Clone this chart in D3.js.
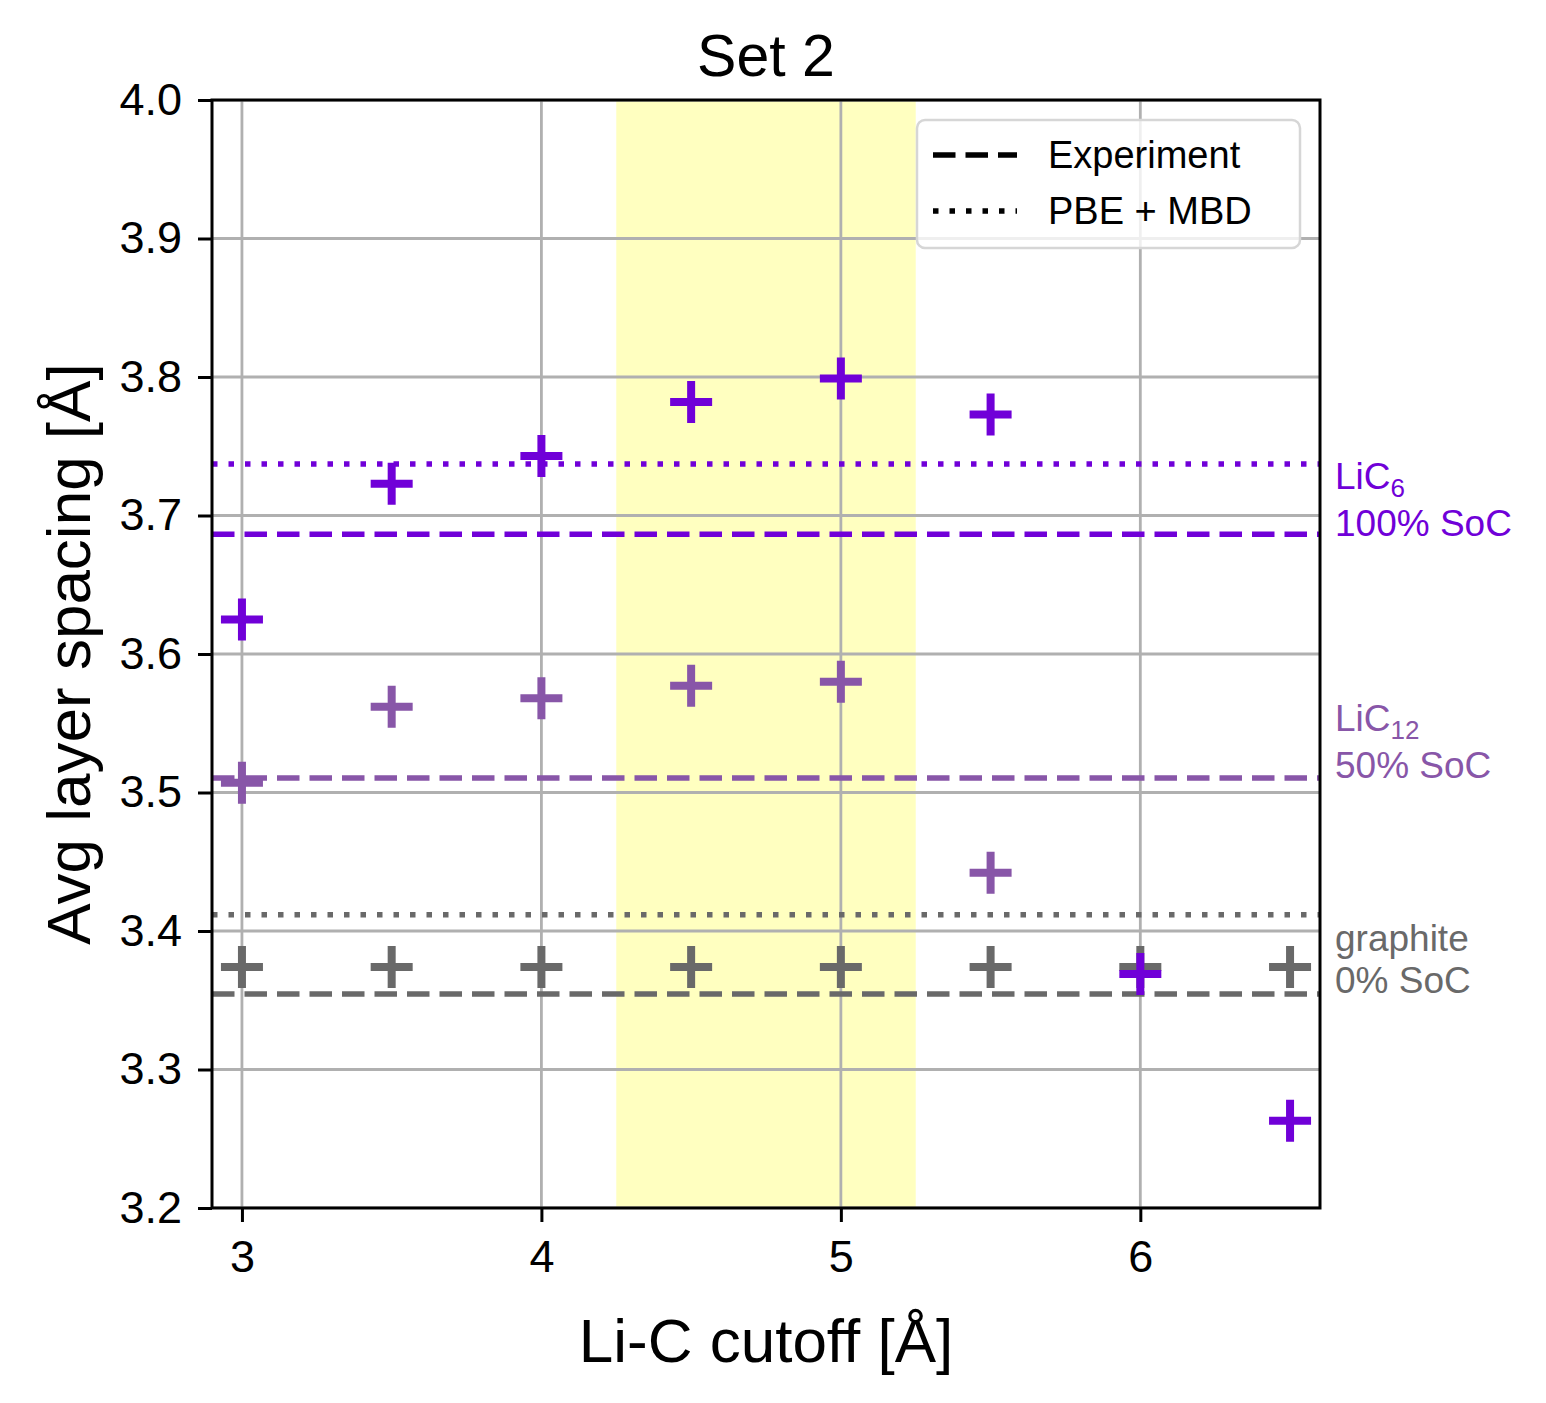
<!DOCTYPE html>
<html>
<head>
<meta charset="utf-8">
<script src="https://cdn.jsdelivr.net/npm/d3@7"></script>
<style>
body { margin:0; background:#fff; }
svg text { font-family: 'Liberation Sans', Arial, sans-serif; }
</style>
</head>
<body>
<svg id="chart" width="1546" height="1403"></svg>
<script>
// data
var cutoffs   = [3, 3.5, 4, 4.5, 5, 5.5, 6, 6.5];
var lic6      = [3.625, 3.723, 3.743, 3.782, 3.799, 3.773, 3.369, 3.263];
var lic12     = [3.507, 3.562, 3.568, 3.577, 3.580, 3.442, null, null];
var graphite  = [3.374, 3.374, 3.374, 3.374, 3.374, 3.374, 3.374, 3.374];

var expLines  = [{v:3.6865, c:'lic6'}, {v:3.5105, c:'lic12'}, {v:3.3545, c:'graphite'}];
var pbeLines  = [{v:3.7372, c:'lic6'}, {v:3.4118, c:'graphite'}];

var xTicks = [3, 4, 5, 6];
var yTicks = [3.2, 3.3, 3.4, 3.5, 3.6, 3.7, 3.8, 3.9, 4.0];
var shade  = [4.25, 5.25];

var labels = [
	{c:'lic6', v:3.716, main:'LiC', sub:'6', line2:'100% SoC'},
	{c:'lic12', v:3.541, main:'LiC', sub:'12', line2:'50% SoC'},
	{c:'graphite', v:3.382, main:'graphite', sub:'', line2:'0% SoC'}
];

var colors = {lic6:'#7000d8', lic12:'#8856a8', graphite:'#696969'};

var svg = d3.select('#chart');
var pLeft = 212, pRight = 1320, pTop = 100, pBottom = 1208;

var x = d3.scaleLinear().domain([2.9, 6.6]).range([pLeft, pRight]);
var y = d3.scaleLinear().domain([3.2, 4.0]).range([pBottom, pTop]);

// clip for the axes area
svg.append('clipPath').attr('id','clip')
	.append('rect').attr('x',pLeft).attr('y',pTop).attr('width',pRight-pLeft).attr('height',pBottom-pTop);

var plot = svg.append('g').attr('clip-path','url(#clip)');

// highlighted span
plot.append('rect')
	.attr('x', x(shade[0]))
	.attr('y', pTop)
	.attr('width', x(shade[1]) - x(shade[0]))
	.attr('height', pBottom - pTop)
	.attr('fill', '#ffffc0');

// grid
plot.selectAll('.gx').data(xTicks).enter()
	.append('line')
	.attr('class','gx')
	.attr('x1', function(d){return x(d);}).attr('x2', function(d){return x(d);})
	.attr('y1', pTop).attr('y2', pBottom)
	.attr('stroke','#b0b0b0').attr('stroke-width',2.8);

plot.selectAll('.gy').data(yTicks).enter()
	.append('line')
	.attr('class','gy')
	.attr('x1', pLeft).attr('x2', pRight)
	.attr('y1', function(d){return y(d);}).attr('y2', function(d){return y(d);})
	.attr('stroke','#b0b0b0').attr('stroke-width',2.8);

// reference lines
plot.selectAll('.exp').data(expLines).enter()
	.append('line')
	.attr('class','exp')
	.attr('x1', pLeft).attr('x2', pRight)
	.attr('y1', function(d){return y(d.v);}).attr('y2', function(d){return y(d.v);})
	.attr('stroke', function(d){return colors[d.c];})
	.attr('stroke-width', 5.5)
	.attr('stroke-dasharray', '22.5,10');

plot.selectAll('.pbe').data(pbeLines).enter()
	.append('line')
	.attr('class','pbe')
	.attr('x1', pLeft).attr('x2', pRight)
	.attr('y1', function(d){return y(d.v);}).attr('y2', function(d){return y(d.v);})
	.attr('stroke', function(d){return colors[d.c];})
	.attr('stroke-width', 5.5)
	.attr('stroke-dasharray', '5.5,11');

// plus markers
var arm = 21;
function plusPath(d){
	var cx = x(d.x), cy = y(d.y);
	return 'M'+(cx-arm)+','+cy+'H'+(cx+arm)+'M'+cx+','+(cy-arm)+'V'+(cy+arm);
}
function pts(vals){
	return cutoffs.map(function(c,i){return {x:c, y:vals[i]};})
		.filter(function(d){return d.y !== null;});
}

[['graphite', graphite], ['lic12', lic12], ['lic6', lic6]].forEach(function(s){
	svg.selectAll('.pt_'+s[0]).data(pts(s[1])).enter()
		.append('path')
		.attr('class','pt_'+s[0])
		.attr('d', plusPath)
		.attr('stroke', colors[s[0]])
		.attr('stroke-width', 8)
		.attr('fill','none');
});

// axes
var xAxis = svg.append('g')
	.attr('transform','translate(0,'+pBottom+')')
	.call(d3.axisBottom(x).tickValues(xTicks).tickSize(14).tickPadding(14).tickFormat(d3.format('d')));
var yAxis = svg.append('g')
	.attr('transform','translate('+pLeft+',0)')
	.call(d3.axisLeft(y).tickValues(yTicks).tickSize(14).tickPadding(16).tickFormat(d3.format('.1f')));

[xAxis, yAxis].forEach(function(a){
	a.select('.domain').remove();
	a.selectAll('.tick line').attr('stroke','#000').attr('stroke-width',3);
	a.selectAll('.tick text')
		.attr('fill','#000')
		.attr('font-size','45px')
		.attr('font-family',"'Liberation Sans', Arial, sans-serif");
});
xAxis.selectAll('.tick text').attr('dy','0.8em');

// frame
svg.append('rect')
	.attr('x',pLeft).attr('y',pTop)
	.attr('width',pRight-pLeft).attr('height',pBottom-pTop)
	.attr('fill','none').attr('stroke','#000').attr('stroke-width',3);

// title and axis labels
svg.append('text')
	.attr('x',(pLeft+pRight)/2).attr('y',76)
	.attr('text-anchor','middle')
	.attr('font-size','59px')
	.text('Set 2');

svg.append('text')
	.attr('x',(pLeft+pRight)/2).attr('y',1362)
	.attr('text-anchor','middle')
	.attr('font-size','62px')
	.text('Li-C cutoff [Å]');

svg.append('text')
	.attr('transform','translate(90,'+((pTop+pBottom)/2)+') rotate(-90)')
	.attr('text-anchor','middle')
	.attr('font-size','62px')
	.text('Avg layer spacing [Å]');

// right-hand annotations
var ann = svg.selectAll('.ann').data(labels).enter()
	.append('text')
	.attr('class','ann')
	.attr('x', pRight + 15)
	.attr('y', function(d){return y(d.v);})
	.attr('fill', function(d){return colors[d.c];})
	.attr('font-size','37px');

ann.append('tspan')
	.attr('x', pRight + 15)
	.attr('dy','-0.12em')
	.text(function(d){return d.main;});
ann.append('tspan')
	.attr('font-size','26px')
	.attr('dy','0.3em')
	.text(function(d){return d.sub;});
ann.append('tspan')
	.attr('x', pRight + 15)
	.attr('dy', function(d){return d.sub ? '1.05em' : '1.12em';})
	.text(function(d){return d.line2;});

// legend
var lg = svg.append('g').attr('transform','translate(917,120)');
lg.append('rect')
	.attr('width',383).attr('height',128)
	.attr('rx',8).attr('ry',8)
	.attr('fill','rgba(255,255,255,0.8)')
	.attr('stroke','#d6d6d6').attr('stroke-width',2.5);

var legendItems = [{name:'Experiment', dash:'22.5,10'}, {name:'PBE + MBD', dash:'5.5,11'}];
var li = lg.selectAll('.li').data(legendItems).enter()
	.append('g')
	.attr('class','li')
	.attr('transform', function(d,i){return 'translate(0,'+(35+i*56)+')';});
li.append('line')
	.attr('x1',16).attr('x2',100)
	.attr('stroke','#000').attr('stroke-width',5.5)
	.attr('stroke-dasharray', function(d){return d.dash;});
li.append('text')
	.attr('x',131).attr('y',13)
	.attr('font-size','38px')
	.text(function(d){return d.name;});
</script>
</body>
</html>
